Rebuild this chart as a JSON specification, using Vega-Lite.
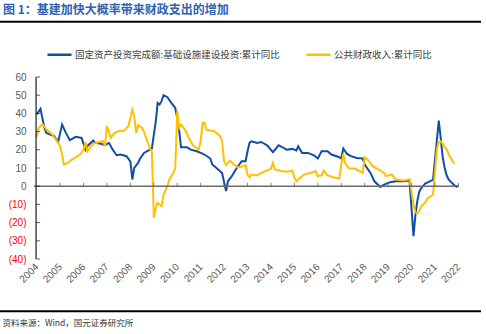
{
  "$schema": "https://vega.github.io/schema/vega-lite/v6.json",
  "autosize": {"type": "none"},
  "padding": {"left": 0, "top": 77, "right": 5, "bottom": 75},
  "width": 481,
  "height": 182,
  "background": "white",
  "config": {"view": {"stroke": null}, "axis": {"grid": false, "domain": false, "ticks": false}},
  "title": {
    "text": "图 1：基建加快大概率带来财政支出的增加",
    "anchor": "start",
    "frame": "group",
    "dx": 3,
    "offset": 4,
    "font": "Noto Sans CJK SC",
    "fontSize": 12,
    "fontWeight": "bold",
    "color": "#2E62AE"
  },
  "layer": [
    {
      "data": {
        "values": [
          {"date": "2004-01-01", "固定资产投资完成额:基础设施建设投资:累计同比": 39.4, "公共财政收入:累计同比": 27},
          {"date": "2004-02-01", "公共财政收入:累计同比": 32},
          {"date": "2004-03-01", "固定资产投资完成额:基础设施建设投资:累计同比": 42.5},
          {"date": "2004-04-01", "公共财政收入:累计同比": 34.2},
          {"date": "2004-05-01", "固定资产投资完成额:基础设施建设投资:累计同比": 32},
          {"date": "2004-06-01", "固定资产投资完成额:基础设施建设投资:累计同比": 29.3, "公共财政收入:累计同比": 31.1},
          {"date": "2004-09-01", "公共财政收入:累计同比": 28.4},
          {"date": "2004-10-01", "固定资产投资完成额:基础设施建设投资:累计同比": 27.5},
          {"date": "2004-12-01", "固定资产投资完成额:基础设施建设投资:累计同比": 24.3, "公共财政收入:累计同比": 23.8},
          {"date": "2005-01-01", "公共财政收入:累计同比": 22},
          {"date": "2005-02-01", "固定资产投资完成额:基础设施建设投资:累计同比": 33.9, "公共财政收入:累计同比": 17.4},
          {"date": "2005-03-01", "公共财政收入:累计同比": 11.9},
          {"date": "2005-04-01", "固定资产投资完成额:基础设施建设投资:累计同比": 29.3},
          {"date": "2005-05-01", "公共财政收入:累计同比": 12.8},
          {"date": "2005-06-01", "固定资产投资完成额:基础设施建设投资:累计同比": 25.3},
          {"date": "2005-07-01", "公共财政收入:累计同比": 14.6},
          {"date": "2005-09-01", "固定资产投资完成额:基础设施建设投资:累计同比": 27.1},
          {"date": "2005-10-01", "公共财政收入:累计同比": 16.5},
          {"date": "2005-12-01", "固定资产投资完成额:基础设施建设投资:累计同比": 26.5, "公共财政收入:累计同比": 18.3},
          {"date": "2006-01-01", "公共财政收入:累计同比": 20.1},
          {"date": "2006-02-01", "固定资产投资完成额:基础设施建设投资:累计同比": 20.1, "公共财政收入:累计同比": 24.3},
          {"date": "2006-03-01", "固定资产投资完成额:基础设施建设投资:累计同比": 22, "公共财政收入:累计同比": 19.2},
          {"date": "2006-05-01", "公共财政收入:累计同比": 22},
          {"date": "2006-06-01", "固定资产投资完成额:基础设施建设投资:累计同比": 25.1, "公共财政收入:累计同比": 23.3},
          {"date": "2006-07-01", "固定资产投资完成额:基础设施建设投资:累计同比": 23.8},
          {"date": "2006-09-01", "公共财政收入:累计同比": 24.3},
          {"date": "2006-10-01", "固定资产投资完成额:基础设施建设投资:累计同比": 23.3},
          {"date": "2006-11-01", "公共财政收入:累计同比": 24.7},
          {"date": "2006-12-01", "固定资产投资完成额:基础设施建设投资:累计同比": 22.5, "公共财政收入:累计同比": 22},
          {"date": "2007-01-01", "公共财政收入:累计同比": 33},
          {"date": "2007-02-01", "固定资产投资完成额:基础设施建设投资:累计同比": 23.8},
          {"date": "2007-03-01", "公共财政收入:累计同比": 26.5},
          {"date": "2007-04-01", "固定资产投资完成额:基础设施建设投资:累计同比": 20.1},
          {"date": "2007-05-01", "公共财政收入:累计同比": 29.3},
          {"date": "2007-06-01", "固定资产投资完成额:基础设施建设投资:累计同比": 17},
          {"date": "2007-07-01", "公共财政收入:累计同比": 30.2},
          {"date": "2007-08-01", "固定资产投资完成额:基础设施建设投资:累计同比": 17.4},
          {"date": "2007-10-01", "公共财政收入:累计同比": 30.6},
          {"date": "2007-11-01", "固定资产投资完成额:基础设施建设投资:累计同比": 16.5},
          {"date": "2007-12-01", "公共财政收入:累计同比": 33},
          {"date": "2008-01-01", "固定资产投资完成额:基础设施建设投资:累计同比": 13.7},
          {"date": "2008-02-01", "固定资产投资完成额:基础设施建设投资:累计同比": 3.7, "公共财政收入:累计同比": 42.1},
          {"date": "2008-03-01", "固定资产投资完成额:基础设施建设投资:累计同比": 10, "公共财政收入:累计同比": 38.5},
          {"date": "2008-04-01", "公共财政收入:累计同比": 29.3},
          {"date": "2008-05-01", "固定资产投资完成额:基础设施建设投资:累计同比": 12.8, "公共财政收入:累计同比": 33.5},
          {"date": "2008-06-01", "固定资产投资完成额:基础设施建设投资:累计同比": 15.2},
          {"date": "2008-07-01", "公共财政收入:累计同比": 32},
          {"date": "2008-08-01", "固定资产投资完成额:基础设施建设投资:累计同比": 18.3, "公共财政收入:累计同比": 30},
          {"date": "2008-09-01", "公共财政收入:累计同比": 26.5},
          {"date": "2008-11-01", "固定资产投资完成额:基础设施建设投资:累计同比": 20.1, "公共财政收入:累计同比": 20.7},
          {"date": "2008-12-01", "固定资产投资完成额:基础设施建设投资:累计同比": 20.7, "公共财政收入:累计同比": 19.2},
          {"date": "2009-01-01", "公共财政收入:累计同比": -17.4},
          {"date": "2009-02-01", "固定资产投资完成额:基础设施建设投资:累计同比": 35.7, "公共财政收入:累计同比": -11.9},
          {"date": "2009-03-01", "固定资产投资完成额:基础设施建设投资:累计同比": 45.8, "公共财政收入:累计同比": -9.2},
          {"date": "2009-04-01", "固定资产投资完成额:基础设施建设投资:累计同比": 44.9},
          {"date": "2009-05-01", "固定资产投资完成额:基础设施建设投资:累计同比": 46.7, "公共财政收入:累计同比": -11},
          {"date": "2009-06-01", "固定资产投资完成额:基础设施建设投资:累计同比": 50, "公共财政收入:累计同比": -4.6},
          {"date": "2009-08-01", "固定资产投资完成额:基础设施建设投资:累计同比": 48.9, "公共财政收入:累计同比": 0},
          {"date": "2009-09-01", "公共财政收入:累计同比": 3.7},
          {"date": "2009-10-01", "固定资产投资完成额:基础设施建设投资:累计同比": 45.8},
          {"date": "2009-11-01", "公共财政收入:累计同比": 7.3},
          {"date": "2009-12-01", "固定资产投资完成额:基础设施建设投资:累计同比": 43, "公共财政收入:累计同比": 10},
          {"date": "2010-01-01", "固定资产投资完成额:基础设施建设投资:累计同比": 37.5, "公共财政收入:累计同比": 41.6},
          {"date": "2010-02-01", "固定资产投资完成额:基础设施建设投资:累计同比": 30.2, "公共财政收入:累计同比": 32},
          {"date": "2010-03-01", "固定资产投资完成额:基础设施建设投资:累计同比": 21.4, "公共财政收入:累计同比": 33.9},
          {"date": "2010-05-01", "公共财政收入:累计同比": 31.1},
          {"date": "2010-06-01", "固定资产投资完成额:基础设施建设投资:累计同比": 21.4},
          {"date": "2010-07-01", "公共财政收入:累计同比": 26.5},
          {"date": "2010-08-01", "固定资产投资完成额:基础设施建设投资:累计同比": 20.1},
          {"date": "2010-09-01", "公共财政收入:累计同比": 22.5},
          {"date": "2010-11-01", "固定资产投资完成额:基础设施建设投资:累计同比": 19.2},
          {"date": "2010-12-01", "公共财政收入:累计同比": 20.1},
          {"date": "2011-01-01", "固定资产投资完成额:基础设施建设投资:累计同比": 18.3, "公共财政收入:累计同比": 24.7},
          {"date": "2011-02-01", "公共财政收入:累计同比": 34.8},
          {"date": "2011-03-01", "固定资产投资完成额:基础设施建设投资:累计同比": 17.4, "公共财政收入:累计同比": 34.8},
          {"date": "2011-04-01", "公共财政收入:累计同比": 31.1},
          {"date": "2011-06-01", "固定资产投资完成额:基础设施建设投资:累计同比": 15.2, "公共财政收入:累计同比": 30.6},
          {"date": "2011-07-01", "固定资产投资完成额:基础设施建设投资:累计同比": 11.9},
          {"date": "2011-08-01", "公共财政收入:累计同比": 30.2},
          {"date": "2011-10-01", "固定资产投资完成额:基础设施建设投资:累计同比": 9.2},
          {"date": "2011-11-01", "公共财政收入:累计同比": 27.5},
          {"date": "2011-12-01", "固定资产投资完成额:基础设施建设投资:累计同比": 7.3, "公共财政收入:累计同比": 24.7},
          {"date": "2012-01-01", "公共财政收入:累计同比": 13.7},
          {"date": "2012-02-01", "固定资产投资完成额:基础设施建设投资:累计同比": -2.7, "公共财政收入:累计同比": 11.5},
          {"date": "2012-03-01", "固定资产投资完成额:基础设施建设投资:累计同比": 2.7},
          {"date": "2012-04-01", "公共财政收入:累计同比": 14.1},
          {"date": "2012-05-01", "固定资产投资完成额:基础设施建设投资:累计同比": 5.5},
          {"date": "2012-06-01", "公共财政收入:累计同比": 11.9},
          {"date": "2012-07-01", "固定资产投资完成额:基础设施建设投资:累计同比": 9.2},
          {"date": "2012-08-01", "公共财政收入:累计同比": 10.4},
          {"date": "2012-10-01", "固定资产投资完成额:基础设施建设投资:累计同比": 13.7},
          {"date": "2012-11-01", "公共财政收入:累计同比": 11},
          {"date": "2012-12-01", "固定资产投资完成额:基础设施建设投资:累计同比": 13.7, "公共财政收入:累计同比": 11.5},
          {"date": "2013-01-01", "固定资产投资完成额:基础设施建设投资:累计同比": 19.2, "公共财政收入:累计同比": 6.4},
          {"date": "2013-02-01", "固定资产投资完成额:基础设施建设投资:累计同比": 23.8, "公共财政收入:累计同比": 4.9},
          {"date": "2013-03-01", "固定资产投资完成额:基础设施建设投资:累计同比": 24.7, "公共财政收入:累计同比": 6.4},
          {"date": "2013-06-01", "固定资产投资完成额:基础设施建设投资:累计同比": 23.8, "公共财政收入:累计同比": 5.9},
          {"date": "2013-08-01", "固定资产投资完成额:基础设施建设投资:累计同比": 24.3, "公共财政收入:累计同比": 7.3},
          {"date": "2013-11-01", "固定资产投资完成额:基础设施建设投资:累计同比": 22.5, "公共财政收入:累计同比": 8.6},
          {"date": "2014-01-01", "公共财政收入:累计同比": 9.7},
          {"date": "2014-02-01", "固定资产投资完成额:基础设施建设投资:累计同比": 18.7, "公共财政收入:累计同比": 12.8},
          {"date": "2014-03-01", "公共财政收入:累计同比": 9.2},
          {"date": "2014-05-01", "固定资产投资完成额:基础设施建设投资:累计同比": 22.5},
          {"date": "2014-07-01", "固定资产投资完成额:基础设施建设投资:累计同比": 21.4, "公共财政收入:累计同比": 8.2},
          {"date": "2014-09-01", "固定资产投资完成额:基础设施建设投资:累计同比": 20.1},
          {"date": "2014-10-01", "公共财政收入:累计同比": 7.9},
          {"date": "2014-12-01", "固定资产投资完成额:基础设施建设投资:累计同比": 20.5, "公共财政收入:累计同比": 8.6},
          {"date": "2015-01-01", "公共财政收入:累计同比": 4.9},
          {"date": "2015-02-01", "固定资产投资完成额:基础设施建设投资:累计同比": 19.6, "公共财政收入:累计同比": 2.7},
          {"date": "2015-03-01", "固定资产投资完成额:基础设施建设投资:累计同比": 22},
          {"date": "2015-04-01", "公共财政收入:累计同比": 4.6},
          {"date": "2015-05-01", "固定资产投资完成额:基础设施建设投资:累计同比": 18.3},
          {"date": "2015-06-01", "公共财政收入:累计同比": 6.4},
          {"date": "2015-08-01", "固定资产投资完成额:基础设施建设投资:累计同比": 18.3},
          {"date": "2015-09-01", "公共财政收入:累计同比": 7.3},
          {"date": "2015-11-01", "固定资产投资完成额:基础设施建设投资:累计同比": 17},
          {"date": "2015-12-01", "公共财政收入:累计同比": 8.2},
          {"date": "2016-01-01", "固定资产投资完成额:基础设施建设投资:累计同比": 15.2, "公共财政收入:累计同比": 5.5},
          {"date": "2016-03-01", "固定资产投资完成额:基础设施建设投资:累计同比": 19.2, "公共财政收入:累计同比": 6},
          {"date": "2016-04-01", "公共财政收入:累计同比": 8.6},
          {"date": "2016-06-01", "固定资产投资完成额:基础设施建设投资:累计同比": 19.2, "公共财政收入:累计同比": 6},
          {"date": "2016-08-01", "固定资产投资完成额:基础设施建设投资:累计同比": 17.4},
          {"date": "2016-09-01", "公共财政收入:累计同比": 4.9},
          {"date": "2016-12-01", "固定资产投资完成额:基础设施建设投资:累计同比": 15.9, "公共财政收入:累计同比": 4.2},
          {"date": "2017-01-01", "固定资产投资完成额:基础设施建设投资:累计同比": 15.2, "公共财政收入:累计同比": 11.9},
          {"date": "2017-02-01", "固定资产投资完成额:基础设施建设投资:累计同比": 20.7, "公共财政收入:累计同比": 17.7},
          {"date": "2017-03-01", "公共财政收入:累计同比": 12.8},
          {"date": "2017-04-01", "固定资产投资完成额:基础设施建设投资:累计同比": 17.7},
          {"date": "2017-05-01", "公共财政收入:累计同比": 9.7},
          {"date": "2017-06-01", "固定资产投资完成额:基础设施建设投资:累计同比": 16.5},
          {"date": "2017-08-01", "公共财政收入:累计同比": 9.7},
          {"date": "2017-09-01", "固定资产投资完成额:基础设施建设投资:累计同比": 15.5},
          {"date": "2017-12-01", "固定资产投资完成额:基础设施建设投资:累计同比": 15.2, "公共财政收入:累计同比": 7.3},
          {"date": "2018-01-01", "固定资产投资完成额:基础设施建设投资:累计同比": 11.9, "公共财政收入:累计同比": 15.9},
          {"date": "2018-03-01", "公共财政收入:累计同比": 14.1},
          {"date": "2018-04-01", "固定资产投资完成额:基础设施建设投资:累计同比": 7.3},
          {"date": "2018-05-01", "公共财政收入:累计同比": 11},
          {"date": "2018-06-01", "固定资产投资完成额:基础设施建设投资:累计同比": 2.7},
          {"date": "2018-08-01", "公共财政收入:累计同比": 9.2},
          {"date": "2018-09-01", "固定资产投资完成额:基础设施建设投资:累计同比": -0.4},
          {"date": "2018-11-01", "固定资产投资完成额:基础设施建设投资:累计同比": 0.9, "公共财政收入:累计同比": 7.3},
          {"date": "2018-12-01", "公共财政收入:累计同比": 5.5},
          {"date": "2019-02-01", "固定资产投资完成额:基础设施建设投资:累计同比": 2.2},
          {"date": "2019-03-01", "公共财政收入:累计同比": 6.4},
          {"date": "2019-05-01", "固定资产投资完成额:基础设施建设投资:累计同比": 2.7, "公共财政收入:累计同比": 3.7},
          {"date": "2019-09-01", "固定资产投资完成额:基础设施建设投资:累计同比": 2.7, "公共财政收入:累计同比": 3.1},
          {"date": "2019-12-01", "固定资产投资完成额:基础设施建设投资:累计同比": 3.1, "公共财政收入:累计同比": 3.8},
          {"date": "2020-02-01", "固定资产投资完成额:基础设施建设投资:累计同比": -27.5, "公共财政收入:累计同比": -10},
          {"date": "2020-03-01", "固定资产投资完成额:基础设施建设投资:累计同比": -16, "公共财政收入:累计同比": -14.3},
          {"date": "2020-04-01", "固定资产投资完成额:基础设施建设投资:累计同比": -8, "公共财政收入:累计同比": -15},
          {"date": "2020-05-01", "固定资产投资完成额:基础设施建设投资:累计同比": -3, "公共财政收入:累计同比": -13.6},
          {"date": "2020-06-01", "固定资产投资完成额:基础设施建设投资:累计同比": -1, "公共财政收入:累计同比": -11},
          {"date": "2020-07-01", "公共财政收入:累计同比": -10},
          {"date": "2020-08-01", "固定资产投资完成额:基础设施建设投资:累计同比": 1.5, "公共财政收入:累计同比": -9},
          {"date": "2020-09-01", "公共财政收入:累计同比": -7},
          {"date": "2020-10-01", "固定资产投资完成额:基础设施建设投资:累计同比": 2.5, "公共财政收入:累计同比": -6},
          {"date": "2020-11-01", "公共财政收入:累计同比": -5.5},
          {"date": "2020-12-01", "固定资产投资完成额:基础设施建设投资:累计同比": 3.5, "公共财政收入:累计同比": -4.5},
          {"date": "2021-02-01", "固定资产投资完成额:基础设施建设投资:累计同比": 26, "公共财政收入:累计同比": 21},
          {"date": "2021-03-01", "固定资产投资完成额:基础设施建设投资:累计同比": 36.1, "公共财政收入:累计同比": 24},
          {"date": "2021-04-01", "固定资产投资完成额:基础设施建设投资:累计同比": 26, "公共财政收入:累计同比": 24.7},
          {"date": "2021-05-01", "固定资产投资完成额:基础设施建设投资:累计同比": 16, "公共财政收入:累计同比": 23.3},
          {"date": "2021-06-01", "固定资产投资完成额:基础设施建设投资:累计同比": 10},
          {"date": "2021-07-01", "固定资产投资完成额:基础设施建设投资:累计同比": 6, "公共财政收入:累计同比": 20.1},
          {"date": "2021-08-01", "固定资产投资完成额:基础设施建设投资:累计同比": 3.7},
          {"date": "2021-09-01", "固定资产投资完成额:基础设施建设投资:累计同比": 2.5, "公共财政收入:累计同比": 15.5},
          {"date": "2021-10-01", "固定资产投资完成额:基础设施建设投资:累计同比": 1.5},
          {"date": "2021-11-01", "固定资产投资完成额:基础设施建设投资:累计同比": 0.5, "公共财政收入:累计同比": 12.3},
          {"date": "2021-12-01", "固定资产投资完成额:基础设施建设投资:累计同比": -0.3},
          {"date": "2022-01-01", "固定资产投资完成额:基础设施建设投资:累计同比": 0.2}
        ]
      },
      "transform": [
        {"fold": ["固定资产投资完成额:基础设施建设投资:累计同比", "公共财政收入:累计同比"], "as": ["series", "value"]},
        {"filter": "isValid(datum.value) && isFinite(datum.value)"}
      ],
      "mark": {"type": "line", "strokeWidth": 2},
      "encoding": {
        "x": {
          "field": "date",
          "type": "temporal",
          "scale": {
            "type": "utc",
            "domain": [{"year": 2002, "month": 6, "date": 9, "utc": true}, {"year": 2022, "month": 12, "date": 19, "utc": true}]
          },
          "axis": {
            "orient": "bottom",
            "offset": 52,
            "values": [
              {"year": 2004, "utc": true}, {"year": 2005, "utc": true}, {"year": 2006, "utc": true}, {"year": 2007, "utc": true},
              {"year": 2008, "utc": true}, {"year": 2009, "utc": true}, {"year": 2010, "utc": true}, {"year": 2011, "utc": true},
              {"year": 2012, "utc": true}, {"year": 2013, "utc": true}, {"year": 2014, "utc": true}, {"year": 2015, "utc": true},
              {"year": 2016, "utc": true}, {"year": 2017, "utc": true}, {"year": 2018, "utc": true}, {"year": 2019, "utc": true},
              {"year": 2020, "utc": true}, {"year": 2021, "utc": true}, {"year": 2022, "utc": true}
            ],
            "format": "%Y",
            "domain": false,
            "ticks": false,
            "tickSize": 0,
            "labelAngle": -45,
            "labelAlign": "right",
            "labelBaseline": "middle",
            "labelPadding": -46,
            "labelFont": "Liberation Sans",
            "labelFontSize": 10,
            "labelColor": "#595959",
            "labelOverlap": false,
            "labelFlush": false,
            "labelBound": false,
            "title": "资料来源：Wind，国元证券研究所",
            "titleFont": "Noto Sans CJK SC",
            "titleFontSize": 8.5,
            "titleFontWeight": "normal",
            "titleColor": "#333333",
            "titleAlign": "left",
            "titleAnchor": "start",
            "titleBaseline": "middle",
            "titleX": 2,
            "titleY": 11
          }
        },
        "y": {
          "field": "value",
          "type": "quantitative",
          "scale": {"domain": [-40, 60], "nice": false, "zero": false},
          "axis": {
            "orient": "left",
            "offset": -36,
            "values": [-40, -30, -20, -10, 0, 10, 20, 30, 40, 50, 60],
            "domain": false,
            "ticks": false,
            "tickSize": 0,
            "labelPadding": 10,
            "labelOverlap": false,
            "labelFont": "Liberation Sans",
            "labelFontSize": 10,
            "labelColor": {"condition": {"test": "datum.value < 0", "value": "#FF0000"}, "value": "#595959"},
            "labelExpr": "datum.value < 0 ? '(' + abs(datum.value) + ')' : datum.label",
            "title": null
          }
        },
        "color": {
          "field": "series",
          "type": "nominal",
          "scale": {
            "domain": ["固定资产投资完成额:基础设施建设投资:累计同比", "公共财政收入:累计同比"],
            "range": ["#124EA0", "#FFC000"]
          },
          "legend": {
            "title": null,
            "orient": "none",
            "legendX": 46,
            "legendY": -36,
            "direction": "horizontal",
            "symbolType": "stroke",
            "symbolStrokeWidth": 2.5,
            "symbolSize": 576,
            "labelFont": "Noto Sans CJK SC",
            "labelFontSize": 9.5,
            "labelColor": "#404040",
            "labelOffset": 2,
            "labelLimit": 400,
            "columnPadding": 21,
            "padding": 0
          }
        }
      }
    },
    {
      "data": {"values": [{}]},
      "mark": {"type": "rule", "color": "#6B6B6B", "strokeWidth": 1.5, "clip": false},
      "encoding": {
        "x": {"datum": {"year": 2003, "month": 11, "date": 20, "utc": true}, "type": "temporal", "axis": null},
        "x2": {"datum": {"year": 2022, "month": 1, "date": 1, "utc": true}},
        "y": {"datum": 0, "type": "quantitative", "axis": null}
      }
    },
    {
      "data": {"values": [{"v": -40}, {"v": -30}, {"v": -20}, {"v": -10}, {"v": 0}, {"v": 10}, {"v": 20}, {"v": 30}, {"v": 40}, {"v": 50}, {"v": 60}]},
      "layer": [
        {
          "mark": {"type": "rule", "color": "#1A1A1A", "strokeWidth": 1.2, "clip": false},
          "encoding": {
            "x": {"datum": {"year": 2003, "month": 12, "date": 23, "utc": true}, "type": "temporal", "axis": null},
            "y": {"aggregate": "min", "field": "v", "type": "quantitative", "axis": null},
            "y2": {"aggregate": "max", "field": "v"}
          }
        },
        {
          "mark": {"type": "tick", "orient": "horizontal", "color": "#1A1A1A", "size": 4, "thickness": 1, "xOffset": 2, "clip": false},
          "encoding": {
            "x": {"datum": {"year": 2003, "month": 12, "date": 23, "utc": true}, "type": "temporal", "axis": null},
            "y": {"field": "v", "type": "quantitative", "axis": null}
          }
        }
      ]
    },
    {
      "data": {"values": [
        {"year": "2004-01-01"}, {"year": "2005-01-01"}, {"year": "2006-01-01"}, {"year": "2007-01-01"},
        {"year": "2008-01-01"}, {"year": "2009-01-01"}, {"year": "2010-01-01"}, {"year": "2011-01-01"},
        {"year": "2012-01-01"}, {"year": "2013-01-01"}, {"year": "2014-01-01"}, {"year": "2015-01-01"},
        {"year": "2016-01-01"}, {"year": "2017-01-01"}, {"year": "2018-01-01"}, {"year": "2019-01-01"},
        {"year": "2020-01-01"}, {"year": "2021-01-01"}, {"year": "2022-01-01"}
      ]},
      "mark": {"type": "tick", "orient": "vertical", "color": "#595959", "size": 4, "thickness": 1, "yOffset": -1.5, "clip": false},
      "encoding": {
        "x": {"field": "year", "type": "temporal", "axis": null},
        "y": {"datum": 0, "type": "quantitative", "axis": null}
      }
    },
    {
      "data": {"values": [{"edge": "top", "level": 90.3}, {"edge": "bottom", "level": -68.7}]},
      "mark": {"type": "rule", "color": "#000000", "strokeWidth": 2, "clip": false},
      "encoding": {
        "x": {"datum": {"year": 2002, "month": 6, "date": 9, "utc": true}, "type": "temporal", "axis": null},
        "x2": {"datum": {"year": 2022, "month": 12, "date": 19, "utc": true}},
        "y": {"field": "level", "type": "quantitative", "axis": null}
      }
    }
  ],
  "resolve": {"axis": {"x": "independent", "y": "independent"}}
}
